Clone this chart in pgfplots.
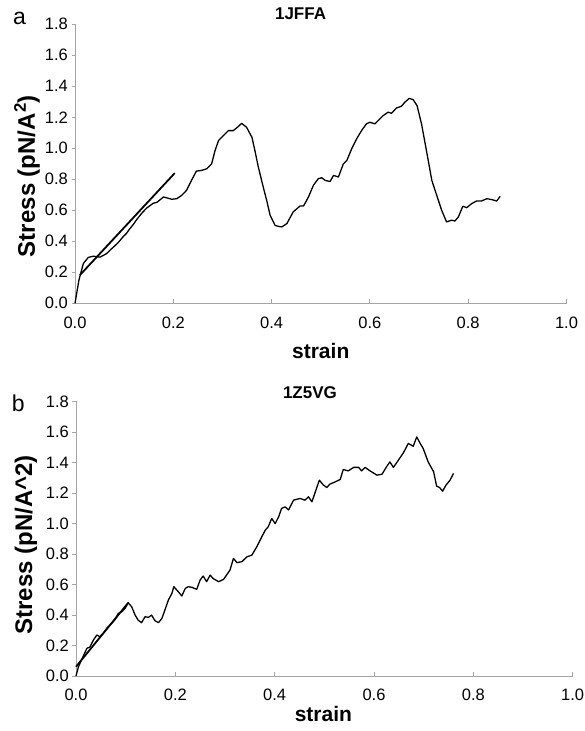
\documentclass[border=0pt]{standalone}
\usepackage{fontspec}
\setmainfont{Liberation Sans}
\usepackage{pgfplots}
\pgfplotsset{compat=1.18}
\definecolor{axisgray}{RGB}{165,165,165}
\pgfplotsset{
  stressax/.style={
    scale only axis,
    xmin=0, xmax=1, ymin=0, ymax=1.8,
    axis x line=bottom, axis y line=left,
    axis line style={-, draw=axisgray, line width=0.9pt},
    xtick={0,0.2,0.4,0.6,0.8,1.0},
    ytick={0,0.2,0.4,0.6,0.8,1.0,1.2,1.4,1.6,1.8},
    tick align=inside,
    major tick length=4pt,
    every tick/.style={draw=axisgray, line width=0.9pt},
    ytick style={xshift=-3.5pt},
    ticklabel style={font=\fontsize{16.5}{19}\selectfont, inner sep=0pt},
    xticklabel style={yshift=-13pt, anchor=north},
    yticklabel style={xshift=-7pt, anchor=east},
    /pgf/number format/.cd, fixed, fixed zerofill, precision=1, assume math mode=true,
    /pgfplots/.cd,
    title style={font=\fontsize{17}{20}\selectfont\bfseries},
    xlabel style={font=\fontsize{21}{24}\selectfont\bfseries, anchor=center},
    ylabel style={font=\fontsize{24}{28}\selectfont\bfseries, anchor=center, rotate=0},
    clip=false,
  },
  curve/.style={black, line width=1.3pt, line join=round},
  fit/.style={black, line width=1.8pt},
}
\begin{document}
\begin{tikzpicture}
\useasboundingbox (0,0) rectangle (584pt,-731pt);
% ---------- panel a ----------
\begin{axis}[stressax,
  at={(75pt,-303.3pt)}, anchor=south west,
  width=491.5pt, height=279pt,
  title={1JFFA}, title style={at={(axis description cs:0.459,0.9975)}, anchor=base, inner sep=0pt, yshift=0pt},
  xlabel={strain}, xlabel style={at={(axis description cs:0.5,-0.171)}},
  ylabel={Stress (pN/A\textsuperscript{2})}, ylabel style={at={(axis description cs:-0.0977,0.456)}},
]
\addplot[curve] coordinates {
(0,0) (0.008,0.15) (0.017,0.257) (0.027,0.296) (0.037,0.304) (0.051,0.298)
(0.064,0.320) (0.072,0.345) (0.078,0.362) (0.088,0.392) (0.098,0.430) (0.105,0.452) (0.110,0.475)
(0.119,0.51) (0.125,0.538) (0.136,0.582) (0.146,0.615) (0.159,0.645) (0.167,0.652)
(0.180,0.686) (0.187,0.68) (0.197,0.671) (0.207,0.675) (0.217,0.696) (0.227,0.729)
(0.237,0.793) (0.247,0.853) (0.257,0.857) (0.268,0.868) (0.278,0.9) (0.285,0.986)
(0.292,1.05) (0.302,1.082) (0.312,1.114) (0.322,1.114) (0.332,1.14) (0.339,1.161)
(0.349,1.136) (0.360,1.071) (0.366,0.986) (0.373,0.879) (0.383,0.75) (0.390,0.664)
(0.397,0.568) (0.407,0.503) (0.414,0.496) (0.421,0.493) (0.431,0.514) (0.444,0.590)
(0.458,0.628) (0.465,0.628) (0.475,0.686) (0.485,0.761) (0.495,0.804) (0.502,0.81)
(0.509,0.793) (0.519,0.786) (0.526,0.825) (0.536,0.815) (0.546,0.90) (0.553,0.921)
(0.563,0.997) (0.573,1.061) (0.583,1.114) (0.593,1.158) (0.600,1.168) (0.610,1.158)
(0.617,1.179) (0.627,1.211) (0.637,1.233) (0.644,1.226) (0.654,1.260) (0.664,1.271)
(0.671,1.297) (0.680,1.322) (0.688,1.314) (0.696,1.275) (0.705,1.158) (0.715,0.986)
(0.726,0.793) (0.736,0.696) (0.746,0.6) (0.756,0.525) (0.766,0.536) (0.773,0.531)
(0.780,0.557) (0.789,0.626) (0.797,0.617) (0.807,0.643) (0.817,0.66) (0.827,0.66)
(0.838,0.675) (0.848,0.669) (0.858,0.66) (0.865,0.69)
};
\addplot[fit] coordinates {(0.010,0.182) (0.203,0.840)};
\node[font=\fontsize{23}{26}\selectfont, anchor=center] at (axis description cs:-0.113,1.021) {a};
\end{axis}
% ---------- panel b ----------
\begin{axis}[stressax,
  at={(76pt,-676pt)}, anchor=south west,
  width=496.7pt, height=274.3pt,
  title={1Z5VG}, title style={at={(axis description cs:0.471,0.988)}, anchor=base, inner sep=0pt, yshift=0pt},
  xlabel={strain}, xlabel style={at={(axis description cs:0.498,-0.139)}},
  ylabel={Stress (pN/A\^{}2)}, ylabel style={at={(axis description cs:-0.1007,0.478)}},
]
\addplot[curve] coordinates {
(0,0) (0.005,0.061) (0.011,0.105) (0.022,0.182) (0.028,0.19) (0.035,0.236)
(0.042,0.269) (0.048,0.258) (0.055,0.28) (0.062,0.313) (0.072,0.346) (0.079,0.372)
(0.085,0.411) (0.092,0.422) (0.099,0.444) (0.105,0.481) (0.112,0.455) (0.119,0.4)
(0.125,0.367) (0.132,0.35) (0.139,0.389) (0.146,0.385) (0.152,0.4) (0.159,0.363)
(0.166,0.35) (0.173,0.378) (0.179,0.433) (0.186,0.498) (0.193,0.542) (0.197,0.586)
(0.206,0.553) (0.213,0.525) (0.220,0.575) (0.226,0.586) (0.233,0.582) (0.243,0.569)
(0.250,0.63) (0.256,0.656) (0.263,0.619) (0.270,0.662) (0.276,0.64) (0.287,0.619)
(0.297,0.634) (0.303,0.662) (0.310,0.695) (0.317,0.772) (0.324,0.744) (0.334,0.75)
(0.344,0.782) (0.354,0.793) (0.364,0.848) (0.374,0.913) (0.381,0.957) (0.387,0.979)
(0.394,1.034) (0.401,1.0) (0.408,1.045) (0.414,1.1) (0.421,1.11) (0.428,1.09)
(0.438,1.154) (0.451,1.165) (0.461,1.154) (0.468,1.176) (0.475,1.143) (0.483,1.22)
(0.490,1.285) (0.498,1.253) (0.505,1.237) (0.511,1.259) (0.522,1.274) (0.532,1.29)
(0.538,1.355) (0.548,1.346) (0.559,1.369) (0.569,1.369) (0.575,1.346) (0.582,1.369)
(0.592,1.346) (0.606,1.318) (0.616,1.324) (0.626,1.377) (0.632,1.405) (0.639,1.369)
(0.649,1.416) (0.659,1.464) (0.669,1.526) (0.679,1.508) (0.686,1.569) (0.693,1.526)
(0.699,1.493) (0.709,1.405) (0.720,1.34) (0.726,1.246) (0.732,1.237) (0.738,1.213)
(0.745,1.253) (0.753,1.285) (0.760,1.329)
};
\addplot[fit] coordinates {(0,0.061) (0.105,0.48)};
\node[font=\fontsize{23}{26}\selectfont, anchor=center] at (axis description cs:-0.116,0.993) {b};
\end{axis}
\end{tikzpicture}
\end{document}
